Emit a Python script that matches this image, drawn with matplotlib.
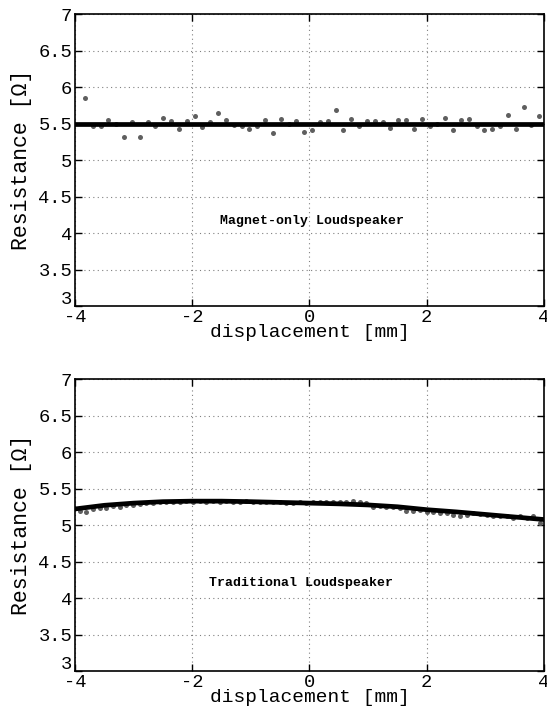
import numpy as np
import matplotlib
matplotlib.use("Agg")
from matplotlib import pyplot as plt
from matplotlib.transforms import ScaledTranslation

plt.rcParams['font.family'] = ['Liberation Mono', 'DejaVu Sans Mono']
plt.rcParams['axes.unicode_minus'] = False

# magnet-only loudspeaker: measured points and fit
x_mag = np.linspace(-3.83, 3.92, 59)
r_mag = [5.85, 5.46, 5.47, 5.55, 5.50, 5.32, 5.52, 5.31, 5.52, 5.46,
         5.58, 5.53, 5.43, 5.53, 5.61, 5.45, 5.52, 5.64, 5.55, 5.48,
         5.46, 5.43, 5.47, 5.55, 5.37, 5.56, 5.49, 5.54, 5.39, 5.41,
         5.52, 5.54, 5.69, 5.41, 5.56, 5.47, 5.54, 5.54, 5.52, 5.44,
         5.55, 5.55, 5.43, 5.56, 5.47, 5.50, 5.58, 5.41, 5.55, 5.56,
         5.46, 5.41, 5.43, 5.47, 5.62, 5.43, 5.73, 5.48, 5.61]
xfit_mag = [-4, 4]
rfit_mag = [5.5, 5.5]

# traditional loudspeaker: measured points and fit
x_trad = np.linspace(-3.92, 3.93, 70)
r_trad = [5.19, 5.18, 5.22, 5.23, 5.23, 5.26, 5.25, 5.28, 5.27, 5.29,
          5.30, 5.30, 5.31, 5.31, 5.32, 5.32, 5.33, 5.32, 5.33, 5.32,
          5.33, 5.32, 5.33, 5.32, 5.32, 5.33, 5.31, 5.32, 5.31, 5.31,
          5.31, 5.30, 5.30, 5.31, 5.30, 5.31, 5.31, 5.32, 5.32, 5.32,
          5.32, 5.33, 5.32, 5.30, 5.24, 5.26, 5.25, 5.24, 5.23, 5.19,
          5.19, 5.20, 5.18, 5.18, 5.17, 5.17, 5.14, 5.13, 5.14, 5.16,
          5.15, 5.14, 5.13, 5.12, 5.12, 5.10, 5.13, 5.09, 5.12, 5.03]
xfit_trad = [-4, -3.5, -3, -2.5, -2, -1.5, -1, -0.5, 0, 0.5,
             1, 1.5, 2, 2.5, 3, 3.5, 4]
rfit_trad = [5.22, 5.27, 5.30, 5.32, 5.327, 5.327, 5.32, 5.31, 5.30, 5.29,
             5.275, 5.25, 5.21, 5.18, 5.145, 5.11, 5.075]

xticks = [-4, -2, 0, 2, 4]
yticks = [3, 3.5, 4, 4.5, 5, 5.5, 6, 6.5, 7]

fig = plt.figure(figsize=(5.47, 7.13), dpi=100)
ax1 = fig.add_axes([0.1371, 0.5708, 0.8574, 0.4095])
ax2 = fig.add_axes([0.1371, 0.0589, 0.8574, 0.4095])

panels = [(ax1, x_mag, r_mag, xfit_mag, rfit_mag, 'Magnet-only Loudspeaker', -1.53, 4.17),
          (ax2, x_trad, r_trad, xfit_trad, rfit_trad, 'Traditional Loudspeaker', -1.71, 4.21)]

for ax, xd, rd, xf, rf, name, tx, ty in panels:
    ax.plot(xd, rd, 'o', color='#5f5f5f', markersize=3.6, markeredgewidth=0, zorder=3)
    ax.plot(xf, rf, '-', color='black', linewidth=3.4, zorder=4)
    ax.set_xlim(-4, 4)
    ax.set_ylim(3, 7)
    ax.set_xticks(xticks)
    ax.set_yticks(yticks)
    ax.set_yticklabels(['%g' % v for v in yticks])
    ax.grid(True, linestyle=(0, (1, 3)), color='#808080', linewidth=0.8)
    ax.tick_params(direction='in', top=True, right=True, length=5, width=1,
                   labelsize=13.5, pad=2)
    for s in ax.spines.values():
        s.set_linewidth(1.2)
    ax.set_xlabel('displacement [mm]', fontsize=14, labelpad=-1)
    ax.set_ylabel('Resistance [\u03a9]', fontsize=15.5, labelpad=5)
    ax.text(tx, ty, name, fontsize=9.5, fontweight='bold', ha='left', va='center')
    # lift the bottom y label off the x tick label, as in the original
    lab = ax.get_yticklabels()[0]
    lab.set_transform(lab.get_transform() + ScaledTranslation(0, 6 / 72, fig.dpi_scale_trans))

fig.savefig('out.png', dpi=100)
